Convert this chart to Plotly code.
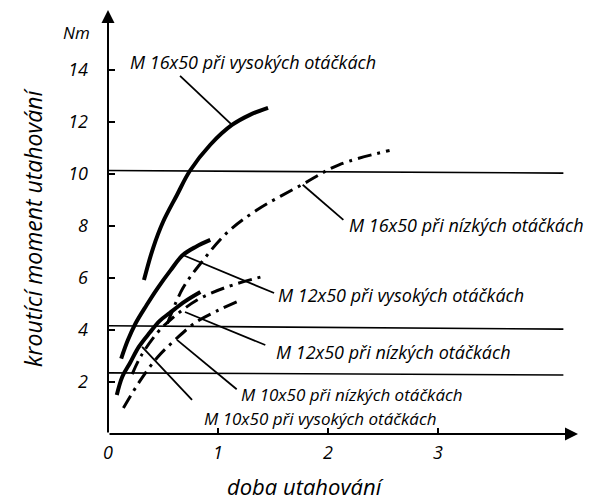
import plotly.graph_objects as go

# ---- data ----
# time [s] vs tightening torque [Nm]
m16_high_x = [0.327, 0.41, 0.50, 0.627, 0.745, 0.93, 1.127, 1.29, 1.455]
m16_high_y = [5.92, 7.15, 8.15, 9.19, 10.12, 11.12, 11.88, 12.27, 12.54]

m16_low_x = [0.54, 0.68, 0.85, 1.08, 1.35, 1.77, 2.10, 2.56]
m16_low_y = [4.25, 5.6, 6.6, 7.73, 8.6, 9.6, 10.35, 10.9]

m12_high_x = [0.12, 0.18, 0.25, 0.35, 0.45, 0.57, 0.68, 0.80, 0.93]
m12_high_y = [2.9, 3.6, 4.25, 4.95, 5.6, 6.3, 6.88, 7.2, 7.46]

m12_low_x = [0.22, 0.30, 0.45, 0.57, 0.81, 1.08, 1.43]
m12_low_y = [2.3, 3.0, 3.9, 4.4, 5.15, 5.65, 6.08]

m10_high_x = [0.08, 0.13, 0.20, 0.28, 0.38, 0.47, 0.56, 0.70, 0.84]
m10_high_y = [1.5, 2.2, 2.73, 3.35, 3.9, 4.35, 4.65, 5.1, 5.46]

m10_low_x = [0.14, 0.30, 0.45, 0.61, 0.80, 1.00, 1.18]
m10_low_y = [1.0, 2.1, 2.95, 3.62, 4.3, 4.75, 5.1]

# horizontal reference lines (left end / right end levels, slightly tilted in the scan)
ref_levels_left = [10.13, 4.16, 2.35]
ref_levels_right = [10.03, 4.03, 2.27]
ref_x_end = 4.14

labels = [
    "M 16x50 při vysokých otáčkách",
    "M 16x50 při nízkých otáčkách",
    "M 12x50 při vysokých otáčkách",
    "M 12x50 při nízkých otáčkách",
    "M 10x50 při nízkých otáčkách",
    "M 10x50 při vysokých otáčkách",
]
label_x = [0.18, 2.17, 1.527, 1.51, 1.19, 0.855]
label_y = [14.3, 8.04, 5.35, 3.15, 1.52, 0.58]
label_size = [18, 18, 18, 18, 17, 17]
leader_from_x = [1.127, 1.77, 0.68, 0.70, 0.627, 0.31]
leader_from_y = [11.88, 9.58, 6.88, 4.69, 3.62, 3.35]
leader_to_x = [0.655, 2.14, 1.51, 1.43, 1.17, 0.764]
leader_to_y = [13.77, 8.23, 5.42, 3.42, 1.72, 1.31]

x_ticks = [0, 1, 2, 3]
y_ticks = [2, 4, 6, 8, 10, 12, 14]
x_max = 4.273
y_max = 16.3

FONT = "Open Sans"

fig = go.Figure()

# reference horizontal lines
for l0, l1 in zip(ref_levels_left, ref_levels_right):
    fig.add_trace(go.Scatter(x=[0, ref_x_end], y=[l0, l1], mode="lines",
                             line=dict(color="black", width=1.6),
                             hoverinfo="skip", showlegend=False))

solid = [(m16_high_x, m16_high_y), (m12_high_x, m12_high_y), (m10_high_x, m10_high_y)]
dashed = [(m16_low_x, m16_low_y), (m12_low_x, m12_low_y), (m10_low_x, m10_low_y)]

for xs, ys in solid:
    fig.add_trace(go.Scatter(x=xs, y=ys, mode="lines",
                             line=dict(color="black", width=4, shape="spline"),
                             hoverinfo="skip", showlegend=False))
for xs, ys in dashed:
    fig.add_trace(go.Scatter(x=xs, y=ys, mode="lines",
                             line=dict(color="black", width=3, shape="spline",
                                       dash="14px,6px,3px,6px"),
                             hoverinfo="skip", showlegend=False))

# leader lines
for fx, fy, tx, ty in zip(leader_from_x, leader_from_y, leader_to_x, leader_to_y):
    fig.add_trace(go.Scatter(x=[fx, tx], y=[fy, ty], mode="lines",
                             line=dict(color="black", width=1.8),
                             hoverinfo="skip", showlegend=False))

# labels
for t, lx, ly, ls in zip(labels, label_x, label_y, label_size):
    fig.add_annotation(x=lx, y=ly, text=t, showarrow=False, xanchor="left",
                       yanchor="middle",
                       font=dict(family=FONT, size=ls, color="black", style="italic"))

# axes with arrows
fig.add_annotation(x=0, y=y_max, ax=0, ay=0, axref="x", ayref="y", xref="x", yref="y",
                   text="", showarrow=True, arrowhead=2, arrowsize=1.3, arrowwidth=2,
                   arrowcolor="black")
fig.add_annotation(x=x_max, y=0, ax=0, ay=0, axref="x", ayref="y", xref="x", yref="y",
                   text="", showarrow=True, arrowhead=2, arrowsize=1.3, arrowwidth=2,
                   arrowcolor="black")

# axis titles
fig.add_annotation(x=-0.066, y=0.946, xref="paper", yref="paper", text="Nm",
                   xanchor="center", yanchor="middle",
                   showarrow=False, font=dict(family=FONT, size=17, color="black", style="italic"))
fig.add_annotation(x=0.421, y=-0.122, xref="paper", yref="paper", text="doba utahování",
                   showarrow=False, xanchor="center", yanchor="middle",
                   font=dict(family=FONT, size=22, color="black", style="italic"))
fig.add_annotation(x=-0.16, y=0.488, xref="paper", yref="paper",
                   text="kroutící moment utahování", textangle=-90, showarrow=False,
                   xanchor="center", yanchor="middle",
                   font=dict(family=FONT, size=23, color="black", style="italic"))

fig.update_layout(
    width=589, height=504,
    margin=dict(l=108, r=11, t=10, b=70),
    paper_bgcolor="white", plot_bgcolor="white",
    xaxis=dict(range=[0, x_max], tickvals=x_ticks, ticktext=[str(v) for v in x_ticks],
               showgrid=False, zeroline=False, showline=False,
               ticks="inside", ticklen=6, tickwidth=2, tickcolor="black",
               ticklabelstandoff=6,
               tickfont=dict(family=FONT, size=18, color="black", style="italic")),
    yaxis=dict(range=[0, y_max], tickvals=y_ticks, ticktext=[str(v) for v in y_ticks],
               showgrid=False, zeroline=False, showline=False,
               ticks="inside", ticklen=7, tickwidth=2, tickcolor="black",
               ticklabelstandoff=19,
               tickfont=dict(family=FONT, size=18, color="black", style="italic")),
)

fig.write_html("out.html", config={"displayModeBar": False},
               post_script="document.body.style.margin='0px';document.body.style.overflow='hidden';")
